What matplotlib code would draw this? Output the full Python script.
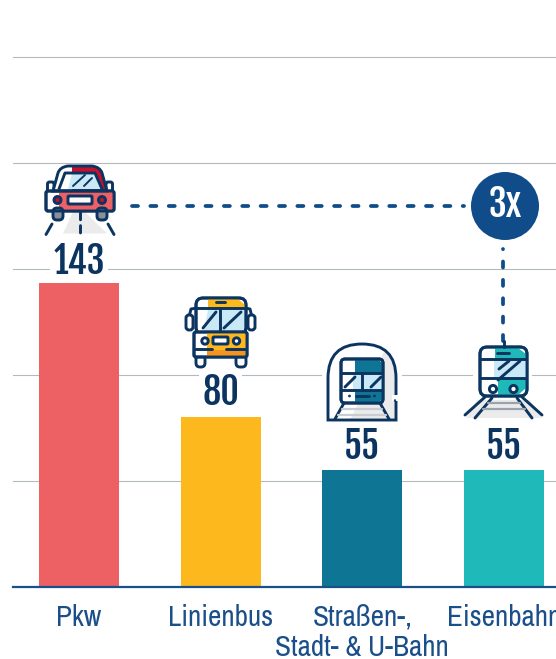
import matplotlib
matplotlib.use("Agg")
import matplotlib.pyplot as plt
from matplotlib.patches import Circle, FancyBboxPatch, Polygon, Rectangle, PathPatch
from matplotlib.path import Path

categories = ["Pkw", "Linienbus", "Straßen-,\nStadt- & U-Bahn", "Eisenbahn"]
values = [143, 80, 55, 55]
bar_colors = ["#ED6064", "#FDB81E", "#0F7595", "#20B9B9"]
grid_ticks = [50, 100, 150, 200, 250]
connector_level = [179.5]

NAVY = "#0B3460"
BLUE = "#0F4C89"
SKY = "#C9E9F7"
GREY = "#EBEBEB"
NARROW = ["Archivo Narrow", "Roboto Condensed", "DejaVu Sans"]
HEAVY = ["Fjalla One", "Oswald", "Archivo Narrow", "DejaVu Sans"]
W, H = 556, 659
LW = 2.1

fig = plt.figure(figsize=(W / 100, H / 100), dpi=100, facecolor="white")
ax = fig.add_axes([13 / W, (H - 586.5) / H, (W - 13) / W, 586.5 / H])
ax.set_xlim((13 - 79) / 141.67, (556 - 79) / 141.67)
ax.set_ylim(0, 586.5 / 2.119)
for s in ["top", "right", "left"]:
    ax.spines[s].set_visible(False)
ax.spines["bottom"].set_color("#1A4F8A")
ax.spines["bottom"].set_linewidth(1.6)
ax.set_yticks(grid_ticks)
ax.tick_params(axis="y", length=0, labelleft=False)
ax.grid(axis="y", color="#B4B9C0", lw=0.8, zorder=0)
ax.set_axisbelow(True)

xs = list(range(len(categories)))
ax.bar(xs, values, width=80 / 141.67, color=bar_colors, zorder=2)
ax.set_xticks(xs)
ax.set_xticklabels(categories, family=NARROW, fontsize=21, color="#1A4F8A", linespacing=1.14)
ax.tick_params(axis="x", length=0, pad=12.5)
for lab in ax.get_xticklabels():
    lab.set_clip_on(False)

offsets = [6.5, 8.5, 8, 8]
for x, v, off in zip(xs, values, offsets):
    ax.annotate(str(v), (x, v), xytext=(0, off), textcoords="offset points", ha="center", va="baseline",
                family=HEAVY, fontsize=26, color=NAVY, zorder=1.5,
                bbox=dict(fc="white", ec="none", pad=2))

# connector lines
dash = (0, (1.6, 3.3))
ax.plot([0.375, 2.72], connector_level * 2, color=BLUE, lw=2.7, ls=dash, dash_capstyle="round", zorder=3)
ax.plot([2.995, 2.995], [(586 - 340) / 2.119, connector_level[0] - 20], color=BLUE, lw=2.7, ls=dash,
        dash_capstyle="round", zorder=3)

# pictogram overlay in pixel units
ov = fig.add_axes([0, 0, 1, 1], facecolor="none", zorder=5)
ov.set_xlim(0, W)
ov.set_ylim(H, 0)
ov.axis("off")


def rrect(x0, y0, x1, y1, r=2, fc="none", ec=NAVY, lw=LW, z=3):
    p = FancyBboxPatch((x0 + r, y0 + r), x1 - x0 - 2 * r, y1 - y0 - 2 * r, boxstyle=f"round,pad={r},rounding_size={r}",
                       fc=fc, ec=ec, lw=lw, zorder=z, mutation_aspect=1)
    ov.add_patch(p)
    return p


def fill(pts, fc, z=2, clip=None):
    p = Polygon(pts, closed=True, fc=fc, ec="none", zorder=z)
    ov.add_patch(p)
    return p


def line(pts, lw=LW, color=NAVY, z=4, ls="-"):
    ov.plot([a for a, _ in pts], [b for _, b in pts], color=color, lw=lw, ls=ls, solid_capstyle="round",
            dash_capstyle="round", solid_joinstyle="round", zorder=z)


def circ(x, y, r, fc="white", ec=NAVY, lw=LW, z=5):
    ov.add_patch(Circle((x, y), r, fc=fc, ec=ec, lw=lw, zorder=z))


def curve(verts, codes, fc="none", ec=NAVY, lw=LW, z=3):
    p = PathPatch(Path(verts, codes), fc=fc, ec=ec, lw=lw, zorder=z)
    ov.add_patch(p)
    return p


M, L3, C3, Z = Path.MOVETO, Path.LINETO, Path.CURVE3, Path.CLOSEPOLY

# grid gaps around pictograms
ov.add_patch(Rectangle((322, 370), 80, 10, fc="white", ec="none", zorder=1))
ov.add_patch(Rectangle((473, 370), 59, 10, fc="white", ec="none", zorder=1))

# --- car ---
fill([(63, 233.5), (73, 212), (85, 212), (107, 233.5)], GREY, z=1.5)
rrect(53, 208, 63, 220, 4, fc="#8A8F99")
rrect(97, 208, 107, 220, 4, fc="#8A8F99")
line([(52, 224), (46, 234.5)])
line([(108, 224), (114, 234.5)])
line([(79.7, 212), (79.7, 235)], ls=(0, (2.5, 2)))
cab = [(53, 191), (58, 173), (60, 167), (68, 166), (92, 166), (100, 167), (102, 173), (107, 191), (53, 191)]
cab_c = [M, L3, C3, C3, L3, C3, C3, L3, Z]
curve(cab, cab_c, fc="white", ec="none", z=2)
cp = curve(cab, cab_c, fc="#C8102E", ec="none", z=2.1)
cp.set_clip_path(Rectangle((72, 160), 40, 35, transform=ov.transData))
curve(cab, cab_c, z=3)
fill([(59, 189), (65, 173), (95, 173), (102, 189)], SKY, z=2.5)
fill([(59, 189), (65, 173), (72, 173), (68, 189)], "white", z=2.55)
line([(59, 189), (65, 173), (95, 173), (102, 189)], z=3)
line([(73, 186), (85, 175)], lw=1.4)
line([(84, 186), (92, 178)], lw=1.4)
rrect(47.5, 182, 54, 192, 2, fc="white", z=1.8)
rrect(106, 182, 112.5, 192, 2, fc="white", z=1.8)
rrect(46, 191, 114, 211, 2, fc="white", z=2.6)
ov.add_patch(Rectangle((59, 192), 54, 18, fc="#ED6064", ec="none", zorder=2.7))
rrect(46, 191, 114, 211, 2, z=3)
circ(57.5, 200, 3.5, fc="#C8102E")
circ(102, 200, 3.5, fc="#C8102E")
rrect(68, 196, 92, 204, 1, fc="white", z=5)

# --- bus ---
rrect(186, 315, 193, 330, 3, fc="white")
rrect(248, 315, 255, 330, 3, fc="white")
line([(189.5, 315), (191, 309), (197, 308)], z=1.9)
line([(251.5, 315), (250, 309), (245, 308)], z=1.9)
rrect(196, 355, 205, 367, 4, fc="white")
rrect(236, 355, 246, 367, 4, fc="white")
rrect(196, 298, 246, 334, 7, fc="white", z=2)
fill([(208, 299), (238, 299), (245, 305), (245, 309), (208, 309)], "#FDB81E", z=2.2)
fill([(198, 309), (244, 309), (244, 332), (198, 332)], SKY, z=2.2)
fill([(198, 309), (208, 309), (204, 332), (198, 332)], "white", z=2.3)
rrect(196, 298, 246, 334, 7, z=3)
line([(197, 308), (245, 308)], z=3)
line([(220, 308), (220, 332)], z=3)
line([(203, 328), (216, 312)], z=4)
line([(224, 328), (241, 312)], z=4)
line([(216, 302), (225, 302)], z=4)
rrect(194, 332, 247, 357, 2, fc="white", z=3)
ov.add_patch(Rectangle((207, 333), 39, 18, fc="#FDB81E", ec="none", zorder=3.2))
ov.add_patch(Rectangle((207, 350), 39, 6, fc="#F7941D", ec="none", zorder=3.2))
rrect(194, 332, 247, 357, 2, z=3.4)
line([(195, 349), (212, 349)], z=4)
line([(226, 349), (246, 349)], z=4)
circ(205, 341, 3.2)
circ(236.5, 341, 3.2)
rrect(213, 337, 228, 344, 1, fc="white", z=5)

# --- tram in tunnel ---
arch = [(328, 420), (328, 378), (328, 344), (362, 344), (396, 344), (396, 378), (396, 420), (328, 420)]
arch_c = [M, L3, C3, C3, C3, C3, L3, Z]
curve(arch, arch_c, fc="white", ec="none", z=1.2)
g = curve(arch, arch_c, fc=GREY, ec="none", z=1.3)
g.set_clip_path(Polygon([(350, 420), (388, 344), (400, 344), (400, 420)], transform=ov.transData))
curve(arch, arch_c, z=3)
ov.add_patch(Rectangle((392, 395), 8, 6, fc="white", ec="none", zorder=3.1))
circ(395, 400.5, 0.8, fc=NAVY, ec=NAVY, lw=0.5)
rrect(341, 359, 383, 403, 4, fc="white", z=2)
fill([(355, 360), (379, 360), (382, 363), (382, 373), (355, 373)], "#0F7595", z=2.2)
fill([(343, 373), (382, 373), (382, 390), (343, 390)], SKY, z=2.2)
fill([(343, 373), (353, 373), (353, 390), (343, 390)], "white", z=2.3)
fill([(355, 390), (382, 390), (382, 400), (378, 402), (355, 402)], "#0F7595", z=2.2)
rrect(341, 359, 383, 403, 4, z=3)
line([(342, 373), (382, 373)])
line([(342, 390), (382, 390)])
line([(362, 373), (362, 390)])
line([(345, 387), (355, 377)])
line([(371, 387), (381, 377)])
line([(356, 396), (369, 396)])
circ(349.5, 396, 1, fc=NAVY, lw=0.5)
circ(374.5, 396, 1, fc=NAVY, lw=0.5)
line([(344, 403), (335, 419)])
line([(380, 403), (389, 419)])
line([(342, 409), (382, 409)], lw=1.6, color="#C9CDD2")
line([(338, 415), (386, 415)], lw=1.6, color="#C9CDD2")

# --- train ---
fill([(466, 418), (477, 400), (530, 400), (542, 418)], GREY, z=1.5)
line([(485, 397), (465, 415)])
line([(522, 397), (542, 415)])
line([(492, 398), (475, 418)])
line([(517, 398), (532, 418)])
line([(488, 403), (520, 403)], lw=1.6, color="#9AA3AD")
line([(483, 409), (525, 409)], lw=1.6, color="#9AA3AD")
line([(503.5, 341), (503.5, 347)])
rrect(480, 347, 527, 396, 7, fc="white", z=2)
fill([(495, 348), (518, 348), (526, 354), (526, 359), (495, 359)], "#20B9B9", z=2.2)
fill([(494, 359), (526, 359), (526, 378), (494, 378)], SKY, z=2.2)
fill([(498, 378), (526, 378), (526, 388), (518, 395), (498, 395)], "#20B9B9", z=2.2)
rrect(480, 347, 527, 396, 7, z=3)
line([(481, 359), (526, 359)], z=3)
line([(481, 378), (526, 378)], z=3)
line([(497, 353), (509, 353)])
line([(499, 369), (509, 361)])
line([(498, 380), (520, 361)])
circ(493, 389, 3.6)
circ(513.5, 389, 3.6)

# --- 3x badge ---
ov.add_patch(Circle((505, 206), 34, fc=BLUE, ec="none", zorder=6))
ov.text(505, 204.5, "3x", ha="center", va="center", color="white", family=HEAVY,
        fontsize=26, zorder=7)

fig.savefig("out.png", dpi=100, facecolor="white")
